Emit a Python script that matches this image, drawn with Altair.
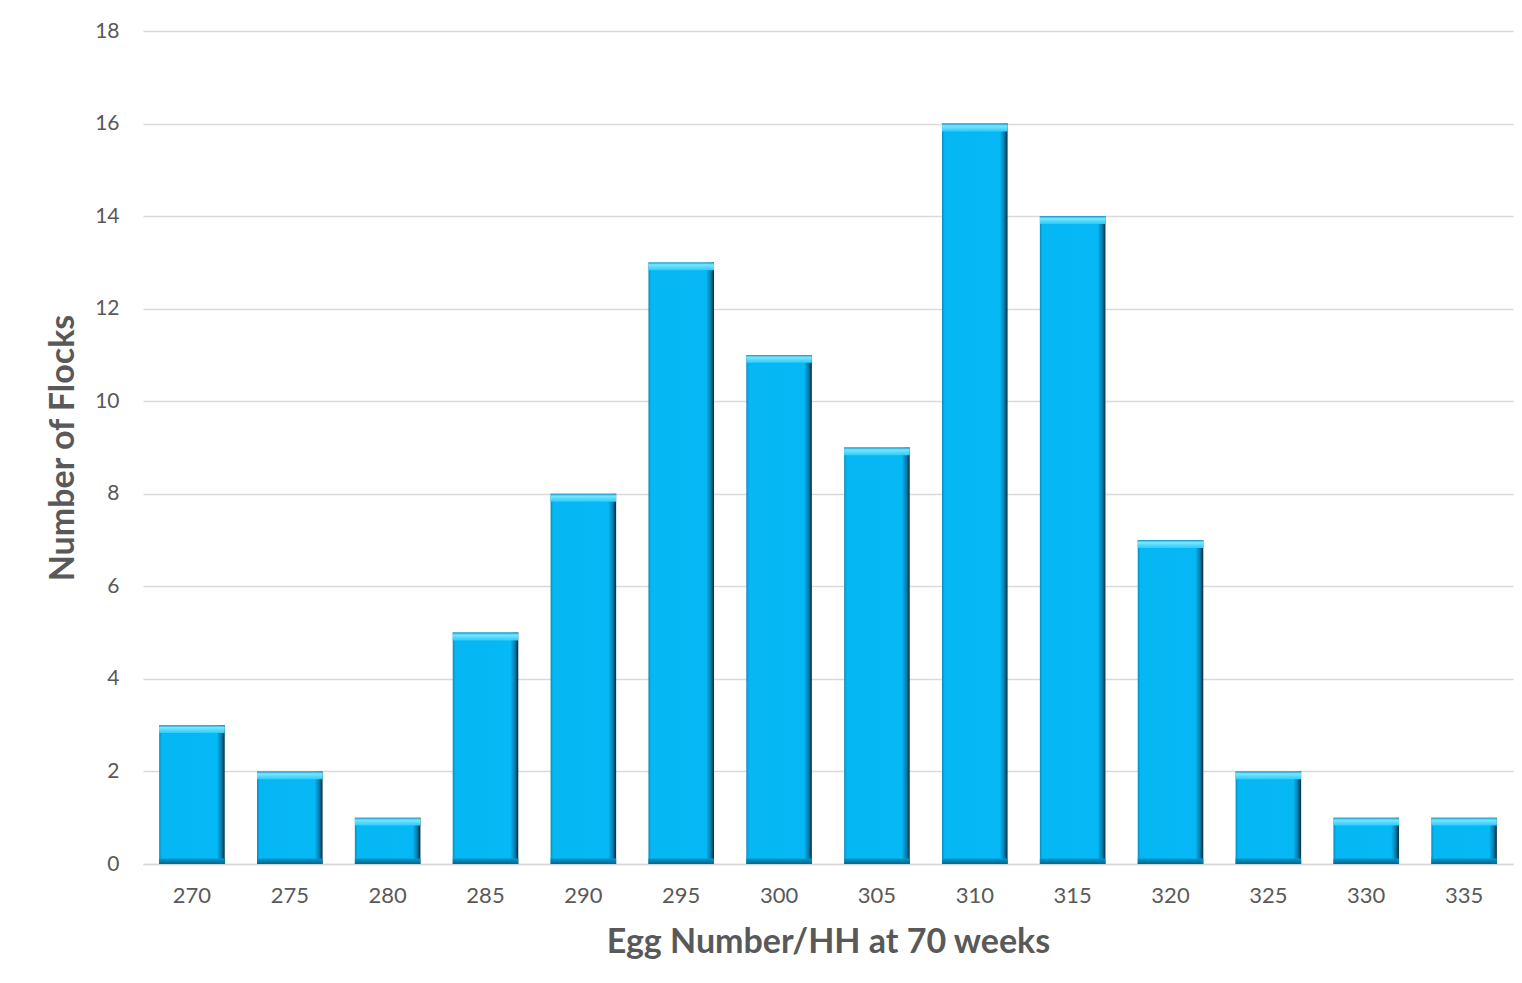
import altair as alt
import pandas as pd

egg_numbers = ["270", "275", "280", "285", "290", "295", "300", "305", "310", "315", "320", "325", "330", "335"]
flocks = [3, 2, 1, 5, 8, 13, 11, 9, 16, 14, 7, 2, 1, 1]

df = pd.DataFrame({"egg": egg_numbers, "n": flocks})

FONT = "Lato"
GREY = "#595959"

x_enc = alt.X(
    "egg:N", sort=egg_numbers,
    scale=alt.Scale(paddingInner=0.33, paddingOuter=0.165),
    axis=alt.Axis(title="Egg Number/HH at 70 weeks", labelAngle=0, labelFontSize=22,
                  labelColor=GREY, labelFont=FONT, labelPadding=21, ticks=False,
                  domainColor="#D9D9D9", domainWidth=1.5,
                  titleFontSize=34, titleFont=FONT, titleColor=GREY, titleFontWeight="bold",
                  titlePadding=19),
)

y_scale = alt.Scale(domain=[0, 18])

base = alt.Chart(df)

main = base.mark_bar(
    color=alt.Gradient(
        gradient="linear", x1=0, x2=1, y1=0, y2=0,
        stops=[alt.GradientStop(color="#0A8CBC", offset=0),
               alt.GradientStop(color="#05B7F3", offset=0.04),
               alt.GradientStop(color="#05B9F6", offset=0.88),
               alt.GradientStop(color="#047CAD", offset=0.95),
               alt.GradientStop(color="#04293A", offset=1)]),
).encode(
    x=x_enc,
    y=alt.Y("n:Q", scale=y_scale,
            axis=alt.Axis(title="Number of Flocks", values=list(range(0, 19, 2)),
                          labelFontSize=21, labelColor=GREY, labelFont=FONT, labelPadding=24,
                          ticks=False, domain=False, gridColor="#D9D9D9", gridWidth=1.5,
                          titleFontSize=34, titleFont=FONT, titleColor=GREY,
                          titleFontWeight="bold", titlePadding=14)),
    y2=alt.datum(0),
)

top = base.transform_calculate(lo="datum.n - 0.17").mark_bar(
    color=alt.Gradient(
        gradient="linear", x1=0, x2=0, y1=0, y2=1,
        stops=[alt.GradientStop(color="#1496C8", offset=0),
               alt.GradientStop(color="#7AE6FF", offset=0.3),
               alt.GradientStop(color="#2CCBFB", offset=1)]),
).encode(x=x_enc, y=alt.Y("n:Q", scale=y_scale), y2="lo:Q")

bottom = base.transform_calculate(lo="0", hi="0.12").mark_bar(
    color=alt.Gradient(
        gradient="linear", x1=0, x2=0, y1=0, y2=1,
        stops=[alt.GradientStop(color="#0498CC", offset=0),
               alt.GradientStop(color="#03668E", offset=1)]),
).encode(x=x_enc, y=alt.Y("hi:Q", scale=y_scale), y2="lo:Q")

chart = alt.layer(main, top, bottom).properties(
    width=1370, height=833,
    autosize=alt.AutoSizeParams(type="none"),
    padding={"left": 135, "top": 23, "right": 1, "bottom": 111},
    background="white",
).configure_view(stroke=None)

chart.save("out.html", embed_options={"renderer": "svg", "actions": False})
